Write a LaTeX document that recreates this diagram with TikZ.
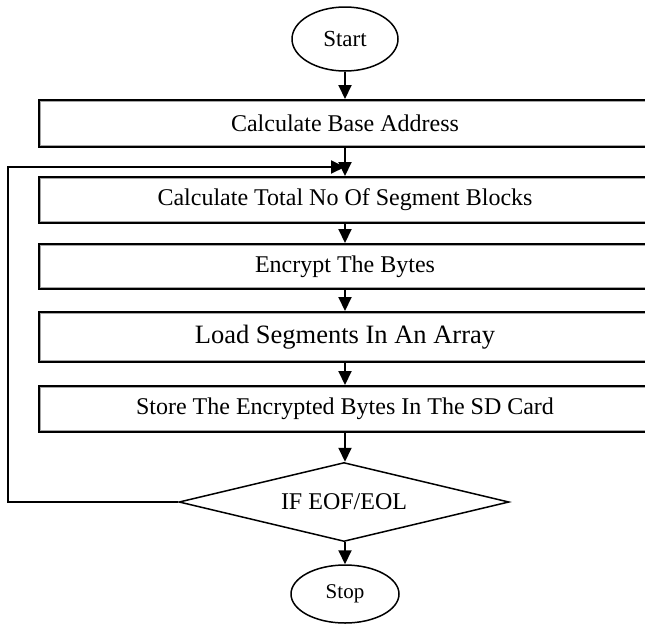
\documentclass[tikz,border=0pt]{standalone}
\usepackage{fontspec}
\setmainfont{Liberation Serif}
\usetikzlibrary{shapes.geometric,arrows.meta}
\begin{document}
\begin{tikzpicture}[x=1pt,y=-1pt,
  txt/.style={font=\fontsize{24}{28}\selectfont},
  stepbox/.style={draw, line width=2pt, minimum width=612pt, inner sep=0pt, txt},
  term/.style={draw, ellipse, line width=1.5pt, inner sep=0pt},
  decision/.style={draw, diamond, shape aspect=4.18, line width=1.5pt, inner sep=0pt, txt},
  arr/.style={line width=2pt, -{Triangle[length=14pt,width=13pt]}},
  loopline/.style={line width=2pt}
]
\clip (0,0) rectangle (645,625);
\fill[white] (0,0) rectangle (645,625);

% terminals
\node[term, minimum width=106pt, minimum height=64pt, font=\fontsize{23}{27}\selectfont] (start) at (345,39) {Start};
\node[term, minimum width=108pt, minimum height=58pt, font=\fontsize{21}{25}\selectfont] (stop) at (345,594) {Stop};

% process boxes
\node[stepbox, minimum height=47pt] (b1) at (345,123.5) {Calculate Base Address};
\node[stepbox, minimum height=46pt] (b2) at (345,200) {Calculate Total No Of Segment Blocks};
\node[stepbox, minimum height=45pt] (b3) at (345,266.5) {Encrypt The Bytes};
\node[stepbox, minimum height=50pt, font=\fontsize{26.5}{30}\selectfont] (b4) at (345,337) {Load Segments In An Array};
\node[stepbox, minimum height=46pt] (b5) at (345,409) {Store The Encrypted Bytes In The SD Card};

% thin grey inner edge of each box
\foreach \b in {b1,b2,b3,b4,b5}
  \draw[gray!70, line width=0.8pt] ([shift={(2.6,-2.6)}]\b.south west) rectangle ([shift={(-2.6,2.6)}]\b.north east);

% decision
\node[decision, minimum width=330pt, minimum height=79pt] (dec) at (344,502) {IF EOF/EOL};

% main flow
\draw[arr] (start.south) -- (b1.north);
\draw[arr] (b1.south) -- (b2.north);
\draw[arr] (b2.south) -- (b3.north);
\draw[arr] (b3.south) -- (b4.north);
\draw[arr] (b4.south) -- (b5.north);
\draw[arr] (b5.south) -- (b5.south |- dec.north);
\draw[arr] (stop.north |- dec.south) -- (stop.north);

% loop back to the segment count
\coordinate (lb) at (8,502);
\coordinate (lt) at (8,167);
\coordinate (lj) at (345,167);
\draw[loopline] (dec.west) -- (lb) -- (lt) -- ([xshift=-14pt]lj);
\draw[arr] ([xshift=-16pt]lj) -- (lj);
\end{tikzpicture}
\end{document}
